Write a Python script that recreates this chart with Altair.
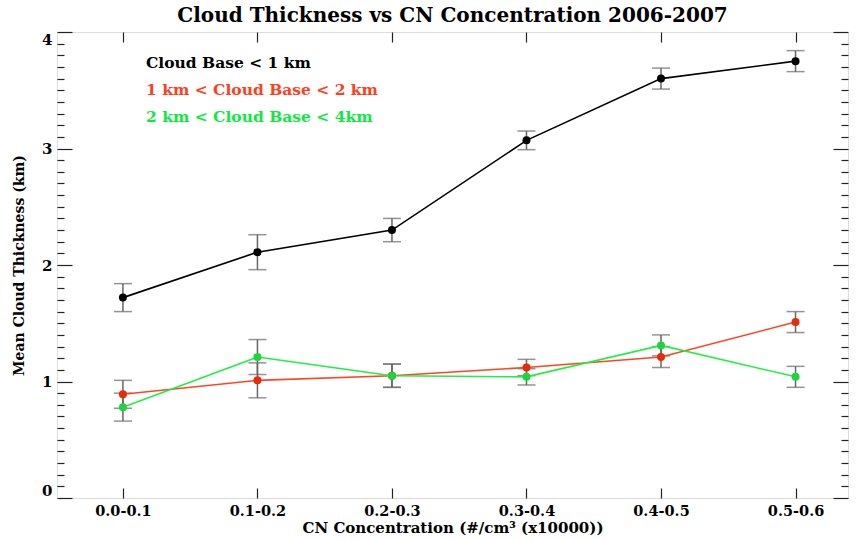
import altair as alt
import pandas as pd

# CN concentration bins (x10000 #/cm^3)
categories = ["0.0-0.1", "0.1-0.2", "0.2-0.3", "0.3-0.4", "0.4-0.5", "0.5-0.6"]

series_names = ["Cloud Base < 1 km", "1 km < Cloud Base < 2 km", "2 km < Cloud Base < 4km"]

# mean cloud thickness (km) and its error per bin
low_mean = [1.72, 2.11, 2.30, 3.07, 3.60, 3.75]
low_err = [0.12, 0.15, 0.10, 0.08, 0.09, 0.09]
mid_mean = [0.89, 1.01, 1.05, 1.12, 1.21, 1.51]
mid_err = [0.12, 0.15, 0.10, 0.07, 0.09, 0.09]
high_mean = [0.78, 1.21, 1.05, 1.04, 1.31, 1.04]
high_err = [0.12, 0.15, 0.10, 0.07, 0.09, 0.09]

line_colors = ["#000000", "#ff4422", "#22ee44"]
point_colors = ["#000000", "#e62a0a", "#1ed43c"]
legend_colors = ["#000000", "#ff4020", "#11e844"]

rows = []
for name, means, errs in zip(series_names, [low_mean, mid_mean, high_mean],
                             [low_err, mid_err, high_err]):
    for i, (m, e) in enumerate(zip(means, errs)):
        rows.append({"series": name, "idx": i, "cat": categories[i],
                     "mean": m, "lo": round(m - e, 3), "hi": round(m + e, 3)})
df = pd.DataFrame(rows)

W, H = 791, 466
FONT = "DejaVu Serif"
xs = alt.Scale(domain=[-0.49, 5.39], nice=False, zero=False)
ys = alt.Scale(domain=[0, 4], nice=False)
x_vals = list(range(len(categories)))
y_major = [0, 1, 2, 3, 4]
y_minor = [round(k * 0.1, 1) for k in range(41) if k % 10]
label_expr = "[" + ",".join(f"'{c}'" for c in categories) + "][datum.value]"


def tick_axis(orient, offset, values, size):
    return alt.Axis(orient=orient, offset=offset, values=values, ticks=True,
                    tickSize=size, tickColor="#222222", tickWidth=1.2,
                    labels=False, domain=False, grid=False, title=None)


x_label_axis = alt.Axis(
    orient="bottom", values=x_vals, labelExpr=label_expr, ticks=False,
    domain=False, grid=False, labelFont=FONT, labelFontSize=14.5,
    labelFontWeight="bold", labelColor="black", labelPadding=6,
    labelFlush=False, title="CN Concentration (#/cm³ (x10000))",
    titleFont=FONT, titleFontSize=15, titleFontWeight="bold",
    titleColor="black", titlePadding=3)
y_label_axis = alt.Axis(
    orient="left", values=y_major, format="d", ticks=False, domain=False,
    grid=False, labelFont=FONT, labelFontSize=15, labelFontWeight="bold",
    labelColor="black", labelPadding=5, labelFlush=True,
    title="Mean Cloud Thickness (km)", titleFont=FONT, titleFontSize=14,
    titleFontWeight="bold", titleColor="black", titlePadding=15)

base = alt.Chart(df)


def axis_layer(xaxis, yaxis):
    return base.mark_point(opacity=0).encode(
        x=alt.X("idx:Q", scale=xs, axis=xaxis),
        y=alt.Y("mean:Q", scale=ys, axis=yaxis))


axes = [
    axis_layer(x_label_axis, y_label_axis),
    axis_layer(tick_axis("top", -H, x_vals, 10), tick_axis("right", -W, y_major, 15)),
    axis_layer(tick_axis("bottom", -H, x_vals, 10), tick_axis("right", -W, y_minor, 7)),
    axis_layer(None, tick_axis("left", -W, y_major, 15)),
    axis_layer(None, tick_axis("left", -W, y_minor, 7)),
]

X = alt.X("idx:Q", scale=xs, axis=None)

lines = base.mark_line(strokeWidth=1.6).encode(
    x=X, y=alt.Y("mean:Q", scale=ys, axis=None),
    color=alt.Color("series:N", scale=alt.Scale(domain=series_names, range=line_colors),
                    legend=None))
points = base.mark_circle(size=64, opacity=1).encode(
    x=X, y=alt.Y("mean:Q", scale=ys, axis=None),
    color=alt.Color("series:N", scale=alt.Scale(domain=series_names, range=point_colors),
                    legend=None))
bars = base.mark_rule(color="#666666", strokeWidth=1.5).encode(
    x=X, y=alt.Y("lo:Q", scale=ys, axis=None), y2="hi:Q")
caps_lo = base.mark_tick(orient="horizontal", size=18, thickness=1.5,
                         color="#666666").encode(x=X, y=alt.Y("lo:Q", scale=ys, axis=None))
caps_hi = base.mark_tick(orient="horizontal", size=18, thickness=1.5,
                         color="#666666").encode(x=X, y=alt.Y("hi:Q", scale=ys, axis=None))

# series key written in its own colours inside the plot
one = pd.DataFrame({"k": [0]})
legend = [
    alt.Chart(one).mark_text(text=name, color=col, align="left", baseline="alphabetic",
                             font=FONT, fontSize=15.5, fontWeight="bold",
                             x=89, y=36 + 27.2 * k)
    for k, (name, col) in enumerate(zip(series_names, legend_colors))
]

chart = alt.layer(*axes, bars, caps_lo, caps_hi, lines, points, *legend).resolve_axis(
    x="independent", y="independent"
).resolve_scale(color="independent").properties(
    width=W, height=H,
    title=alt.TitleParams("Cloud Thickness vs CN Concentration 2006-2007", font=FONT,
                          fontSize=20, fontWeight="bold", color="black",
                          anchor="middle", offset=5),
    autosize="none",
    padding={"left": 57, "top": 32, "right": 15, "bottom": 41},
).configure_view(stroke="#222222", strokeWidth=1.5).configure(background="white")

chart.save("out.html", embed_options={"renderer": "svg", "actions": False})
